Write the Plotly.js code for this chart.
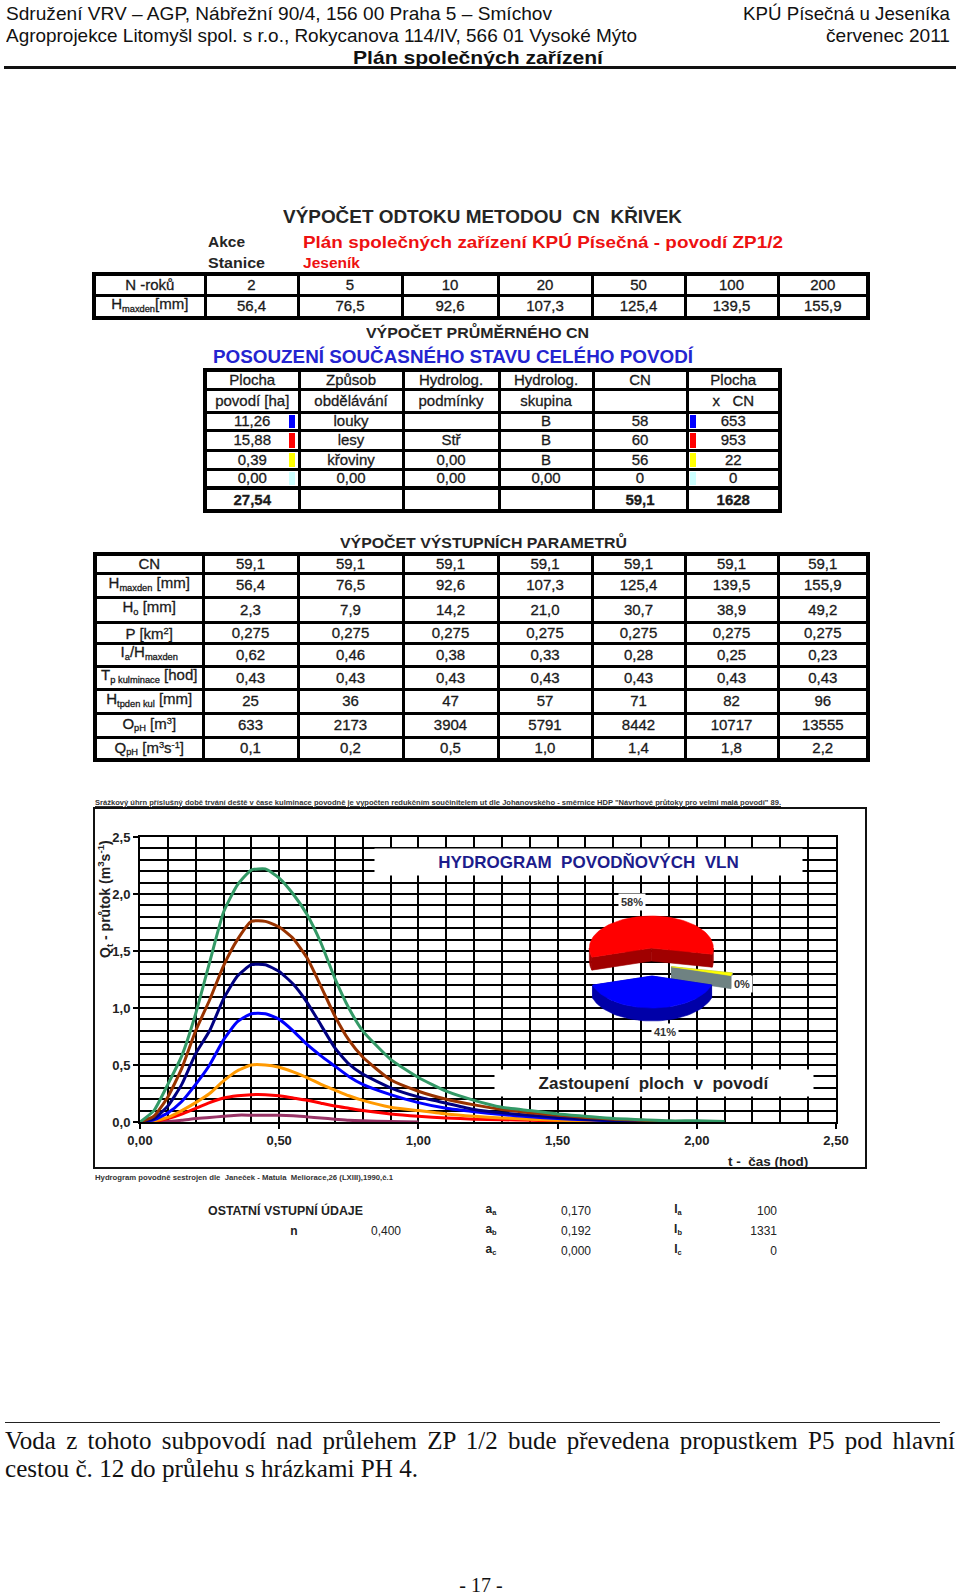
<!DOCTYPE html>
<html><head><meta charset="utf-8">
<script src="https://cdn.plot.ly/plotly-3.0.1.min.js"></script>
<style>
html,body{margin:0;padding:0;background:#fff;}
body{width:960px;height:1593px;position:relative;overflow:hidden;font-family:"Liberation Sans",Arial,sans-serif;color:#222;}
.abs{position:absolute;white-space:nowrap;}
.cell{position:absolute;background:#fff;display:flex;align-items:center;justify-content:center;font-size:15px;color:#1a1a1a;white-space:nowrap;-webkit-text-stroke:0.3px #1a1a1a;}
.cell span.t{display:inline-block;line-height:16px;}
sub{font-size:0.62em;vertical-align:-0.3em;}
sup{font-size:0.62em;vertical-align:0.5em;}
</style></head><body>
<div id="chart" style="position:absolute;left:93px;top:807px;width:774px;height:362px;"></div>
<div style="position:absolute;left:93px;top:807px;width:770px;height:358px;border:2px solid #111;pointer-events:none;"></div>
<script>
// ================= DATA =================
const headerLeft = ["Sdružení VRV – AGP, Nábřežní 90/4, 156 00 Praha 5 – Smíchov",
                    "Agroprojekce Litomyšl spol. s r.o., Rokycanova 114/IV, 566 01 Vysoké Mýto"];
const headerRight = ["KPÚ Písečná u Jeseníka", "červenec 2011"];
const headerTitle = "Plán společných zařízení";
const mainTitle = "VÝPOČET ODTOKU METODOU&nbsp; CN&nbsp; KŘIVEK";
const actionName = "Plán společných zařízení KPÚ Písečná - povodí ZP1/2";
const stationName = "Jeseník";

const returnPeriods = [2, 5, 10, 20, 50, 100, 200];
const hMaxDen = [56.4, 76.5, 92.6, 107.3, 125.4, 139.5, 155.9];

const areaHa = [11.26, 15.88, 0.39, 0.00];
const landUse = ["louky", "lesy", "křoviny", "0,00"];
const hydroCond = ["", "Stř", "0,00", "0,00"];
const hydroGroup = ["B", "B", "B", "0,00"];
const cnByUse = [58, 60, 56, 0];
const areaTimesCN = [653, 953, 22, 0];
const areaTotal = 27.54, cnMean = 59.1, areaCNTotal = 1628;

const cnRow = [59.1, 59.1, 59.1, 59.1, 59.1, 59.1, 59.1];
const h0 = [2.3, 7.9, 14.2, 21.0, 30.7, 38.9, 49.2];
const pArea = [0.275, 0.275, 0.275, 0.275, 0.275, 0.275, 0.275];
const iaRatio = [0.62, 0.46, 0.38, 0.33, 0.28, 0.25, 0.23];
const tpKul = [0.43, 0.43, 0.43, 0.43, 0.43, 0.43, 0.43];
const hTpden = [25, 36, 47, 57, 71, 82, 96];
const opH = [633, 2173, 3904, 5791, 8442, 10717, 13555];
const qpH = [0.1, 0.2, 0.5, 1.0, 1.4, 1.8, 2.2];

const nVal = 0.400;
const aVals = [0.170, 0.192, 0.000];
const iVals = [100, 1331, 0];

// hydrograph (t in hours, Q in m3/s)
const timeH = [0,0.05,0.1,0.15,0.2,0.25,0.3,0.35,0.4,0.45,0.5,0.55,0.6,0.65,0.7,0.75,0.8,
               0.9,1.0,1.1,1.2,1.3,1.4,1.5,1.6,1.7,1.8,1.9,2.0,2.1,2.2];
const qN2   = [0,0,0.005,0.015,0.03,0.04,0.05,0.06,0.06,0.06,0.06,0.055,0.045,0.035,0.025,0.015,0.01,
               0.005,0,null,null,null,null,null,null,null,null,null,null,null,null];
const qN5   = [0,0.005,0.03,0.07,0.12,0.17,0.21,0.23,0.24,0.24,0.23,0.21,0.19,0.165,0.14,0.12,0.10,
               0.07,0.05,0.035,0.025,0.02,0.015,0.01,0.005,0,null,null,null,null,null];
const qN10  = [0,0.01,0.04,0.10,0.17,0.25,0.36,0.45,0.50,0.50,0.48,0.44,0.39,0.33,0.28,0.23,0.19,
               0.13,0.10,0.07,0.05,0.035,0.025,0.015,0.01,0.005,0,null,null,null,null];
const qN20  = [0,0.02,0.08,0.18,0.33,0.50,0.72,0.88,0.95,0.95,0.90,0.80,0.68,0.58,0.49,0.40,0.33,
               0.24,0.17,0.12,0.09,0.065,0.045,0.03,0.02,0.01,0,null,null,null,null];
const qN50  = [0,0.03,0.14,0.33,0.60,0.80,1.08,1.28,1.38,1.38,1.32,1.21,1.05,0.85,0.65,0.51,0.42,
               0.30,0.22,0.165,0.11,0.08,0.06,0.04,0.025,0.012,0.005,0,null,null,null];
const qN100 = [0,0.05,0.22,0.47,0.80,1.07,1.37,1.60,1.76,1.76,1.71,1.61,1.44,1.19,0.93,0.72,0.57,
               0.37,0.27,0.20,0.15,0.11,0.08,0.06,0.04,0.025,0.015,0.005,0,null,null];
const qN200 = [0,0.10,0.33,0.58,0.95,1.40,1.84,2.08,2.21,2.22,2.14,2.00,1.82,1.57,1.26,1.00,0.80,
               0.55,0.39,0.27,0.19,0.13,0.10,0.07,0.05,0.03,0.02,0.01,0.01,0.005,null];

const xTickVals = [0, 0.5, 1.0, 1.5, 2.0, 2.5];
const xTickText = ["0,00", "0,50", "1,00", "1,50", "2,00", "2,50"];
const yTickVals = [0, 0.5, 1.0, 1.5, 2.0, 2.5];
const yTickText = ["0,0", "0,5", "1,0", "1,5", "2,0", "2,5"];

const chartTitle = "HYDROGRAM&nbsp; POVODŇOVÝCH&nbsp; VLN";
const pieTitle = "Zastoupení&nbsp; ploch&nbsp; v&nbsp; povodí";
const yTitle = "Q<sub>t</sub> - průtok (m<sup>3</sup>s<sup>-1</sup>)";
const xTitle = "t -&nbsp; čas (hod)";
const captionTop = "Srážkový úhrn příslušný době trvání deště v čase kulminace povodně je vypočten redukčním součinitelem ut dle Johanovského - směrnice HDP \"Návrhové průtoky pro velmi malá povodí\" 89.";
const captionBottom = "Hydrogram povodně sestrojen dle&nbsp; Janeček - Matula&nbsp; Meliorace,26 (LXIII),1990,č.1";
const footerLine1 = "Voda z tohoto subpovodí nad průlehem ZP 1/2 bude převedena propustkem P5 pod hlavní";
const footerLine2 = "cestou č. 12 do průlehu s hrázkami PH 4.";
const pageNo = "- 17 -";

// ================= STYLES =================
const curveColors = ['#993366','#ff0000','#ff9900','#0000ff','#000080','#993300','#339966'];
const sliceTop  = ['#0000ff','#ff0000','#ffff00','#ccffff'];
const sliceSide = ['#0000a8','#a00000','#6f8282','#99cccc'];

const fmt = (v,d) => v.toFixed(d).replace('.', ',');

// ================= HTML TEXT =================
function T(html, x, yc, o){
  o = o || {};
  const d = document.createElement('div');
  d.className = 'abs';
  d.innerHTML = html;
  const fs = o.size || 14;
  d.style.fontSize = fs + 'px';
  d.style.fontWeight = o.weight || 'normal';
  d.style.color = o.color || '#222';
  if (o.family) d.style.fontFamily = o.family;
  if (o.deco) d.style.textDecoration = o.deco;
  d.style.lineHeight = Math.round(fs*1.2) + 'px';
  document.body.appendChild(d);
  const r = d.getBoundingClientRect();
  const sx = o.w ? o.w / r.width : 1;
  const we = r.width * sx;
  const left = o.align === 'c' ? x - we/2 : (o.align === 'r' ? x - we : x);
  d.style.left = left + 'px';
  d.style.top = (yc - r.height/2) + 'px';
  d.style.transformOrigin = '0 50%';
  d.style.transform = 'scaleX(' + sx + ')';
  return d;
}
function rect(x, y, w, h, color){
  const d = document.createElement('div');
  d.className = 'abs';
  Object.assign(d.style, {left:x+'px', top:y+'px', width:w+'px', height:h+'px', background:color});
  document.body.appendChild(d);
  return d;
}

// header
const HF = '"Liberation Sans Narrow","Liberation Sans",Arial,sans-serif';
T(headerLeft[0], 6, 13, {size:19, family:HF, w:546, color:'#111'});
T(headerLeft[1], 6, 35, {size:19, family:HF, w:631, color:'#111'});
T(headerRight[0], 950, 13, {size:19, family:HF, w:207, align:'r', color:'#111'});
T(headerRight[1], 950, 35, {size:19, family:HF, w:124, align:'r', color:'#111'});
T(headerTitle, 353, 57, {size:19, family:HF, weight:'bold', w:250, color:'#111'});
rect(4, 66, 952, 2.5, '#111');

// titles
T(mainTitle, 283, 217, {size:18, weight:'bold', w:399, color:'#252525'});
T("Akce", 208, 242, {size:14.5, weight:'bold', w:37, color:'#252525'});
T("Stanice", 208, 263, {size:14.5, weight:'bold', w:57, color:'#252525'});
T(actionName, 303, 243, {size:17, weight:'bold', w:480, color:'#ee1111'});
T(stationName, 303, 263, {size:14.5, weight:'bold', w:57, color:'#ee1111'});
T("VÝPOČET PRŮMĚRNÉHO CN", 366, 333, {size:15, weight:'bold', w:223, color:'#252525'});
T("POSOUZENÍ SOUČASNÉHO STAVU CELÉHO POVODÍ", 213, 357, {size:18, weight:'bold', w:480, color:'#2424d0'});
T("VÝPOČET VÝSTUPNÍCH PARAMETRŮ", 340, 543, {size:15, weight:'bold', w:287, color:'#252525'});

// tables
function drawTable(xs, ys, cells, o){
  o = o || {};
  const ob = 4, lw = 3;
  const rowLw = o.rowLw || {};
  rect(xs[0], ys[0], xs[xs.length-1]-xs[0], ys[ys.length-1]-ys[0], '#000');
  const nc = xs.length-1, nr = ys.length-1;
  for (let r=0; r<nr; r++){
    for (let c=0; c<nc; c++){
      const l = c===0 ? xs[0]+ob : xs[c]+lw/2;
      const rr = c===nc-1 ? xs[nc]-ob : xs[c+1]-lw/2;
      const t = r===0 ? ys[0]+ob : ys[r]+(rowLw[r]||lw)/2;
      const b = r===nr-1 ? ys[nr]-ob : ys[r+1]-(rowLw[r+1]||lw)/2;
      const d = document.createElement('div');
      d.className = 'cell';
      Object.assign(d.style, {left:l+'px', top:t+'px', width:(rr-l)+'px', height:(b-t)+'px'});
      const cv = cells[r][c];
      const isObj = (typeof cv === 'object' && cv !== null);
      const html = isObj ? cv.html : cv;
      if (html !== '') {
        const sp = document.createElement('span');
        sp.className = 't';
        sp.innerHTML = html;
        if (isObj && cv.bold) sp.style.fontWeight = 'bold';
        d.appendChild(sp);
      }
      if (isObj && cv.marker){
        const m = document.createElement('div');
        const mx = cv.marker.side === 'right' ? (rr - l - 9) : 1;
        Object.assign(m.style, {position:'absolute', left:mx+'px', top:'1px', width:'6px', height:(b-t-2)+'px', background:cv.marker.color});
        d.appendChild(m);
      }
      document.body.appendChild(d);
    }
  }
}

// table 1
drawTable([92,205,298,402,498,592,685,778,870], [272,295,320], [
  ["N -roků"].concat(returnPeriods.map(String)),
  ["H<sub>maxden</sub>[mm]"].concat(hMaxDen.map(v=>fmt(v,1)))
]);

// table 2
const t2 = [
  ["Plocha","Způsob","Hydrolog.","Hydrolog.","CN","Plocha"],
  ["povodí [ha]","obdělávání","podmínky","skupina","","x&nbsp;&nbsp; CN"]
];
areaHa.forEach((a,i)=>{
  t2.push([
    {html:fmt(a,2), marker:{side:'right', color:sliceTop[i]}},
    landUse[i], hydroCond[i], hydroGroup[i], String(cnByUse[i]),
    {html:String(areaTimesCN[i]), marker:{side:'left', color:sliceTop[i]}}
  ]);
});
t2.push([{html:fmt(areaTotal,2), bold:true}, "", "", "", {html:fmt(cnMean,1), bold:true}, {html:String(areaCNTotal), bold:true}]);
drawTable([203,299,403,499,593,687,782], [368,389,412,430,450,469,488,513], t2, {rowLw:{6:4}});

// table 3
const t3labels = ["CN","H<sub>maxden</sub> [mm]","H<sub>o</sub> [mm]","P [km<sup>2</sup>]","I<sub>a</sub>/H<sub>maxden</sub>",
  "T<sub>p kulminace</sub> [hod]","H<sub>tpden kul</sub> [mm]","O<sub>pH</sub> [m<sup>3</sup>]","Q<sub>pH</sub> [m<sup>3</sup>s<sup>-1</sup>]"];
const t3rows = [cnRow.map(v=>fmt(v,1)), hMaxDen.map(v=>fmt(v,1)), h0.map(v=>fmt(v,1)), pArea.map(v=>fmt(v,3)),
  iaRatio.map(v=>fmt(v,2)), tpKul.map(v=>fmt(v,2)), hTpden.map(String), opH.map(String), qpH.map(v=>fmt(v,1))];
drawTable([93,203,298,403,498,592,685,778,870], [552,573,597,622,643,666,689,713,737,762],
  t3labels.map((l,i)=>[l].concat(t3rows[i])));

// chart captions
T(captionTop, 95, 802, {size:7.5, weight:'bold', w:686, deco:'underline', color:'#333'});
T(captionBottom, 95, 1177, {size:7.5, weight:'bold', w:298, color:'#333'});

// other inputs
T("OSTATNÍ VSTUPNÍ ÚDAJE", 208, 1211, {size:12, weight:'bold', w:155, color:'#222'});
T("n", 294, 1231, {size:12, weight:'bold', align:'c'});
T(fmt(nVal,3), 386, 1231, {size:12, align:'c'});
['a','b','c'].forEach((s,i)=>{
  const y = 1211 + i*20;
  T("a<sub>"+s+"</sub>", 491, y, {size:12, weight:'bold', align:'c'});
  T(fmt(aVals[i],3), 576, y, {size:12, align:'c'});
  T("I<sub>"+s+"</sub>", 678, y, {size:12, weight:'bold', align:'c'});
  T(String(iVals[i]), 777, y, {size:12, align:'r'});
});

// footer
rect(5, 1422, 935, 1.2, '#222');
(function(){
  const SF = '"Liberation Serif","Times New Roman",serif';
  const d = T(footerLine1, 5, 1441, {size:25, family:SF, color:'#111'});
  const nat = d.getBoundingClientRect().width;
  const spaces = (footerLine1.match(/ /g)||[]).length;
  d.style.wordSpacing = ((950 - nat)/spaces) + 'px';
  T(footerLine2, 5, 1469, {size:25, family:SF, color:'#111', w:413});
  T(pageNo, 481, 1585, {size:20, family:SF, color:'#111', align:'c'});
})();

// ================= PLOTLY CHART =================
const W=774, H=362, ML=47, MR=31, MT=30, MB=47;
const plotL = 93+ML, plotT = 807+MT, plotW = W-ML-MR, plotH = H-MT-MB;
const px2x = px => (px - plotL)/plotW;
const py2y = py => (plotT + plotH - py)/plotH;

const seriesList = [qN2, qN5, qN10, qN20, qN50, qN100, qN200];
const traces = seriesList.map((q,i)=>({
  type:'scatter', mode:'lines', x:timeH, y:q, name:'N='+returnPeriods[i],
  line:{color:curveColors[i], width:3, shape:'spline', smoothing:0.5},
  hoverinfo:'skip', connectgaps:false
}));

// pseudo-3D pie of land-use areas (values from areaHa)
const rx=62, ry=32, depth=13, startAngle=-16.2;
const explode=[14,14,20,0];
const total = areaHa.reduce((a,b)=>a+b,0);
let ang = startAngle;
const slices = areaHa.map((v,i)=>{
  const span = v/total*360; const s = {i, v, a0:ang, a1:ang-span}; ang -= span; return s;
});
function P(cx,cy,th,dz){ const r=th*Math.PI/180; return [cx+rx*Math.cos(r), cy-ry*Math.sin(r)+dz]; }
function arc(cx,cy,from,to,dz){ const n=Math.max(2,Math.ceil(Math.abs(from-to)/3)); const pts=[];
  for(let k=0;k<=n;k++){ pts.push(P(cx,cy,from+(to-from)*k/n,dz)); } return pts; }
function poly(pts, color){
  return {type:'scatter', mode:'lines', x:pts.map(p=>p[0]).concat([pts[0][0]]), y:pts.map(p=>p[1]).concat([pts[0][1]]),
    fill:'toself', fillcolor:color, line:{color:color, width:0.6}, xaxis:'x2', yaxis:'y2', hoverinfo:'skip'};
}
const order = slices.filter(s=>s.v>0).map(s=>{ const mid=(s.a0+s.a1)/2; return Object.assign(s,{mid}); })
  .sort((a,b)=>Math.sin(b.mid*Math.PI/180)-Math.sin(a.mid*Math.PI/180));
order.forEach(s=>{
  const m = s.mid*Math.PI/180, e = explode[s.i];
  const cx = e*Math.cos(m), cy = -e*Math.sin(m);
  [s.a0, s.a1].forEach(a=>{
    const p0=P(cx,cy,a,0), p1=P(cx,cy,a,depth);
    traces.push(poly([[cx,cy],p0,p1,[cx,cy+depth]], sliceSide[s.i]));
  });
  for (let k=-2;k<=1;k++){
    const lo=Math.max(s.a1,-180+360*k), hi=Math.min(s.a0,360*k);
    if (hi>lo){
      traces.push(poly(arc(cx,cy,hi,lo,0).concat(arc(cx,cy,lo,hi,depth)), sliceSide[s.i]));
    }
  }
  traces.push(poly([[cx,cy]].concat(arc(cx,cy,s.a0,s.a1,0)), sliceTop[s.i]));
});

// pie frame: 200x200 px centred at page (652, 962)
const pcx=652, pcy=962;
const pieLabelPos = [[665,1032],[632,902],null,[742,984]];
const pieLabels = slices.map((s,i)=>pieLabelPos[i] ? {
  xref:'paper', yref:'paper', x:px2x(pieLabelPos[i][0]), y:py2y(pieLabelPos[i][1]),
  text:'<b>'+Math.round(s.v/total*100)+'%</b>', showarrow:false, bgcolor:'#fff', borderpad:2,
  font:{size:11, color:'#333'}, xanchor:'center', yanchor:'middle'} : null).filter(Boolean);

const axisBase = {
  range:[0,2.5], tickmode:'array', showgrid:true, gridcolor:'#000', gridwidth:2,
  minor:{tickmode:'linear', tick0:0, dtick:0.1, showgrid:true, gridcolor:'#000', gridwidth:2, ticks:''},
  ticks:'outside', ticklen:5, tickwidth:2, tickcolor:'#000',
  showline:true, linecolor:'#000', linewidth:2, mirror:true, zeroline:false,
  tickfont:{size:13, weight:'bold', color:'#222'}, fixedrange:true
};
const layout = {
  width:W, height:H, margin:{l:ML, r:MR, t:MT, b:MB, pad:0},
  paper_bgcolor:'rgba(0,0,0,0)', plot_bgcolor:'rgba(0,0,0,0)',
  showlegend:false,
  font:{family:'"Liberation Sans", Arial, sans-serif', color:'#222'},
  xaxis:Object.assign({}, axisBase, {tickvals:xTickVals, ticktext:xTickText}),
  yaxis:Object.assign({}, axisBase, {tickvals:yTickVals, ticktext:yTickText}),
  xaxis2:{domain:[px2x(pcx-100), px2x(pcx+100)], range:[-100,100], visible:false, fixedrange:true, anchor:'y2'},
  yaxis2:{domain:[py2y(pcy+100), py2y(pcy-100)], range:[100,-100], visible:false, fixedrange:true, anchor:'x2'},
  annotations:[
    {xref:'paper', yref:'paper', x:px2x(588.5), y:py2y(862), text:'<b>'+chartTitle+'</b>', showarrow:false,
     bgcolor:'#fff', width:427, height:26, borderpad:0, font:{size:17, color:'#1c1c8c'}, xanchor:'center', yanchor:'middle'},
    {xref:'paper', yref:'paper', x:px2x(654), y:py2y(1083), text:'<b>'+pieTitle+'</b>', showarrow:false,
     bgcolor:'#fff', width:318, height:26, borderpad:0, font:{size:17, color:'#222'}, xanchor:'center', yanchor:'middle'},
    {xref:'paper', yref:'paper', x:px2x(105), y:py2y(899), text:'<b>'+yTitle+'</b>', textangle:-90, showarrow:false,
     font:{size:14, color:'#222'}, xanchor:'center', yanchor:'middle'},
    {xref:'paper', yref:'paper', x:px2x(810), y:py2y(1161), text:'<b>'+xTitle+'</b>', showarrow:false,
     font:{size:13.5, color:'#222'}, xanchor:'right', yanchor:'middle'}
  ].concat(pieLabels)
};
Plotly.newPlot('chart', traces, layout, {staticPlot:true, displayModeBar:false});
</script>
</body></html>
